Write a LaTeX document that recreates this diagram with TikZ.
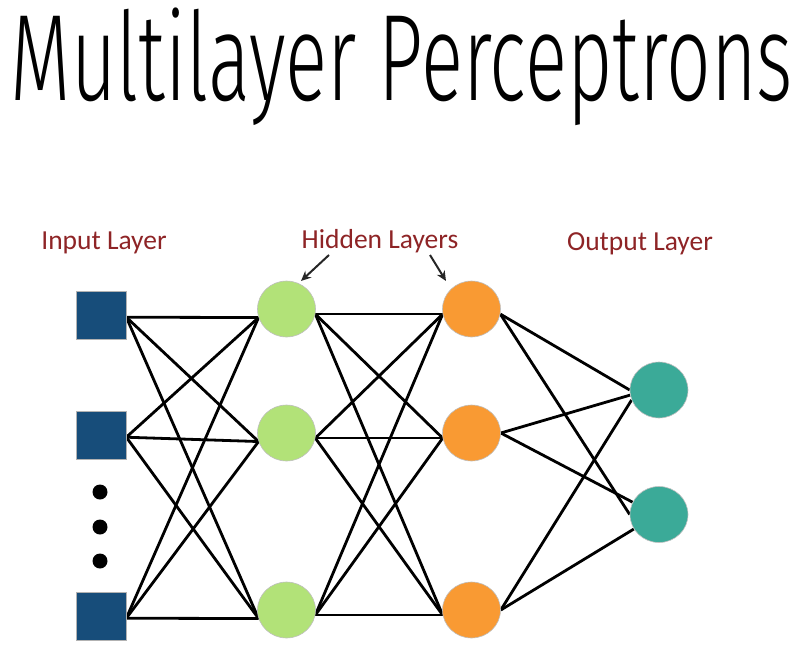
\documentclass[tikz,border=0pt]{standalone}
\usepackage{fontspec}
\usepackage{graphicx}
\setmainfont{Carlito}
\newfontfamily\titlefont{Fira Sans Light}
\usetikzlibrary{shapes.geometric,arrows.meta,backgrounds}
\definecolor{inblue}{RGB}{23,77,122}
\definecolor{hgreen}{RGB}{178,226,120}
\definecolor{horange}{RGB}{249,154,51}
\definecolor{oteal}{RGB}{59,170,152}
\definecolor{lblred}{RGB}{142,36,38}
\begin{document}
\begin{tikzpicture}[x=1pt,y=-1pt,
  inbox/.style={rectangle,fill=inblue,draw=gray!60,line width=0.6pt,minimum width=50pt,minimum height=48pt,inner sep=0pt},
  neuron/.style={ellipse,draw=gray!50,line width=0.6pt,minimum width=58pt,minimum height=56pt,inner sep=0pt},
  edge/.style={line width=2.8pt,black},
  dotnode/.style={circle,fill=black,minimum size=15pt,inner sep=0pt},
  lbl/.style={text=lblred,font=\fontsize{27.5}{30}\selectfont,inner sep=0pt},
  pointer/.style={line width=2pt,black!85,-{Stealth[length=10pt,width=9pt]}}
]
\useasboundingbox (0,0) rectangle (798,648);
% title
\node[anchor=base,inner sep=0pt,font=\titlefont\fontsize{123}{130}\selectfont] (title) at (402,100) {\resizebox{782pt}{\height}{Multilayer Perceptrons}};
% labels
\node[lbl,anchor=base] (lin) at (104,249) {Input Layer};
\node[lbl,anchor=base] (lhid) at (380,248) {Hidden Layers};
\node[lbl,anchor=base] (lout) at (640,250) {Output Layer};
% input
\node[inbox] (s1) at (101,315) {};
\node[inbox] (s2) at (101,435) {};
\node[inbox] (s3) at (101,616) {};
\node[dotnode] (d1) at (100,492) {};
\node[dotnode] (d2) at (100,527) {};
\node[dotnode] (d3) at (100,561) {};
% hidden 1
\node[neuron,fill=hgreen] (g1) at (286.5,309) {};
\node[neuron,fill=hgreen] (g2) at (286.5,433) {};
\node[neuron,fill=hgreen] (g3) at (286.5,610) {};
% hidden 2
\node[neuron,fill=horange] (o1) at (471.5,309) {};
\node[neuron,fill=horange] (o2) at (471.5,433) {};
\node[neuron,fill=horange] (o3) at (471.5,610) {};
% output
\node[neuron,fill=oteal] (t1) at (659,390) {};
\node[neuron,fill=oteal] (t2) at (659,514.5) {};
% pointers
\coordinate (p1s) at (329,255);
\coordinate (p1e) at (301,281);
\coordinate (p2s) at (430,255);
\coordinate (p2e) at (446,281);
\draw[pointer] (p1s) -- (p1e);
\draw[pointer] (p2s) -- (p2e);
\begin{pgfonlayer}{background}
  \foreach \s in {s1,s2,s3}{
    \foreach \g in {g1,g2,g3}{
      \draw[edge] (\s.-5) -- (\g.197);
    }
  }
  \foreach \g in {g1,g2,g3}{
    \foreach \o in {o1,o2,o3}{
      \draw[edge] (\g.350) -- (\o.190);
    }
  }
  \draw[edge] (o1.350) -- (t1.180);
  \draw[edge] (o2.0) -- (t1.190);
  \draw[edge] (o3.0) -- (t1.200);
  \draw[edge] (o1.350) -- (t2.180);
  \draw[edge] (o2.0) -- (t2.155);
  \draw[edge] (o3.0) -- (t2.210);
\end{pgfonlayer}
\end{tikzpicture}
\end{document}
